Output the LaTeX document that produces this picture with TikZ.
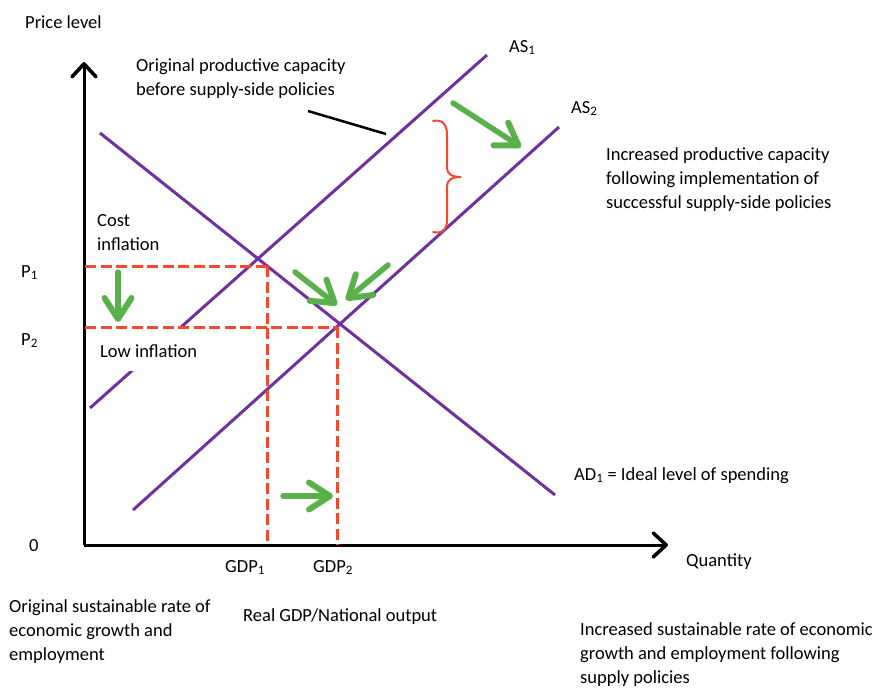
\documentclass[tikz,border=0pt]{standalone}
\usepackage{fontspec}
\setmainfont{Carlito}
\usetikzlibrary{arrows.meta}
\definecolor{purp}{HTML}{7030A0}
\definecolor{grn}{HTML}{5AB04A}
\definecolor{redd}{HTML}{F2492F}
\begin{document}
\begin{tikzpicture}[x=1pt,y=-1pt,
  lbl/.style={inner sep=0pt, anchor=base west, font=\fontsize{18.5}{24}\selectfont},
  para/.style={inner sep=0pt, anchor=north west, align=left, font=\fontsize{18.5}{24}\selectfont},
  curve/.style={draw=purp, line width=3pt},
  axis/.style={line width=3pt, -{Straight Barb[length=13pt,width=24pt,line width=3.6pt,round]}},
  guide/.style={draw=redd, line width=3pt, dash pattern=on 11pt off 4.5pt},
  move/.style={draw=grn, line width=5.5pt, line cap=round, -{Straight Barb[length=21pt,width=27pt,line width=6pt,round]}}]
\useasboundingbox (0,0) rectangle (884,689);

% axes
\coordinate (O) at (84,545);
\coordinate (ytop) at (84,62);
\coordinate (xend) at (668,545);
\draw[axis] (O) -- (ytop);
\draw[axis] (O) -- (xend);

% curves
\coordinate (as1a) at (90,408);
\coordinate (as1b) at (487,55);
\coordinate (as2a) at (133,510);
\coordinate (as2b) at (559,127);
\coordinate (ada) at (100,133);
\coordinate (adb) at (555,495);
\draw[curve] (as1a) -- (as1b);
\draw[curve] (as2a) -- (as2b);
\draw[curve] (ada) -- (adb);

% text box covering AS1
\node[lbl, fill=white, text height=30pt, text depth=14pt] (low) at (100,357) {Low inflation};

% guides
\coordinate (p1) at (85,266);
\coordinate (e1) at (268,266);
\coordinate (g1) at (267,545);
\coordinate (p2) at (85,327);
\coordinate (e2) at (338,327);
\coordinate (g2) at (337,545);
\draw[guide] (p1) -- (e1);
\draw[guide] (g1 |- e1) -- (g1);
\draw[guide] (p2) -- (e2);
\draw[guide] (g2 |- e2) -- (g2);

% green arrows
\coordinate (m1a) at (453,103); \coordinate (m1b) at (521,147);
\coordinate (m2a) at (388,265); \coordinate (m2b) at (346,300);
\coordinate (m3a) at (295,272); \coordinate (m3b) at (337,305);
\coordinate (m4a) at (118,272); \coordinate (m4b) at (118,322);
\coordinate (m5a) at (283,496); \coordinate (m5b) at (333,496);
\draw[move] (m1a) -- (m1b);
\draw[move] (m2a) -- (m2b);
\draw[move] (m3a) -- (m3b);
\draw[move] (m4a) -- (m4b);
\draw[move] (m5a) -- (m5b);

% pointer
\coordinate (pa) at (308,111);
\coordinate (pb) at (386,134);
\draw[line width=2.5pt] (pa) -- (pb);

% brace
\draw[redd, line width=2pt, line cap=round]
  (433,121) .. controls (442,119) and (447,124) .. (447,135) -- (447,168)
  .. controls (447,174) and (452,177) .. (461,177)
  .. controls (452,177) and (447,180) .. (447,186) -- (447,220)
  .. controls (447,230) and (442,234) .. (433,232);

% labels
\node[lbl] (price) at (25,28) {Price level};
\node[lbl] (as1l) at (509,52) {AS\textsubscript{1}};
\node[lbl] (as2l) at (571,113) {AS\textsubscript{2}};
\node[lbl] (p1l) at (21,277) {P\textsubscript{1}};
\node[lbl] (p2l) at (21,345) {P\textsubscript{2}};
\node[lbl] (zero) at (29,551) {0};
\node[lbl] (gdp1) at (225,572) {GDP\textsubscript{1}};
\node[lbl] (gdp2) at (313,572) {GDP\textsubscript{2}};
\node[lbl] (qty) at (686,566) {Quantity};
\node[lbl] (adl) at (574,480) {AD\textsubscript{1} = Ideal level of spending};
\node[lbl] (real) at (243,621) {Real GDP/National output};
\node[para] (orig) at (136,54.2) {\strut Original productive capacity\\before supply-side policies};
\node[para] (incr) at (606,143.2) {\strut Increased productive capacity\\following implementation of\\successful supply-side policies};
\node[para] (cost) at (97,209.2) {\strut Cost\\inflation};
\node[para] (osr) at (9,595.5) {\strut Original sustainable rate of\\economic growth and\\employment};
\node[para] (isr) at (580,618.5) {\strut Increased sustainable rate of economic\\growth and employment following\\supply policies};
\end{tikzpicture}
\end{document}
